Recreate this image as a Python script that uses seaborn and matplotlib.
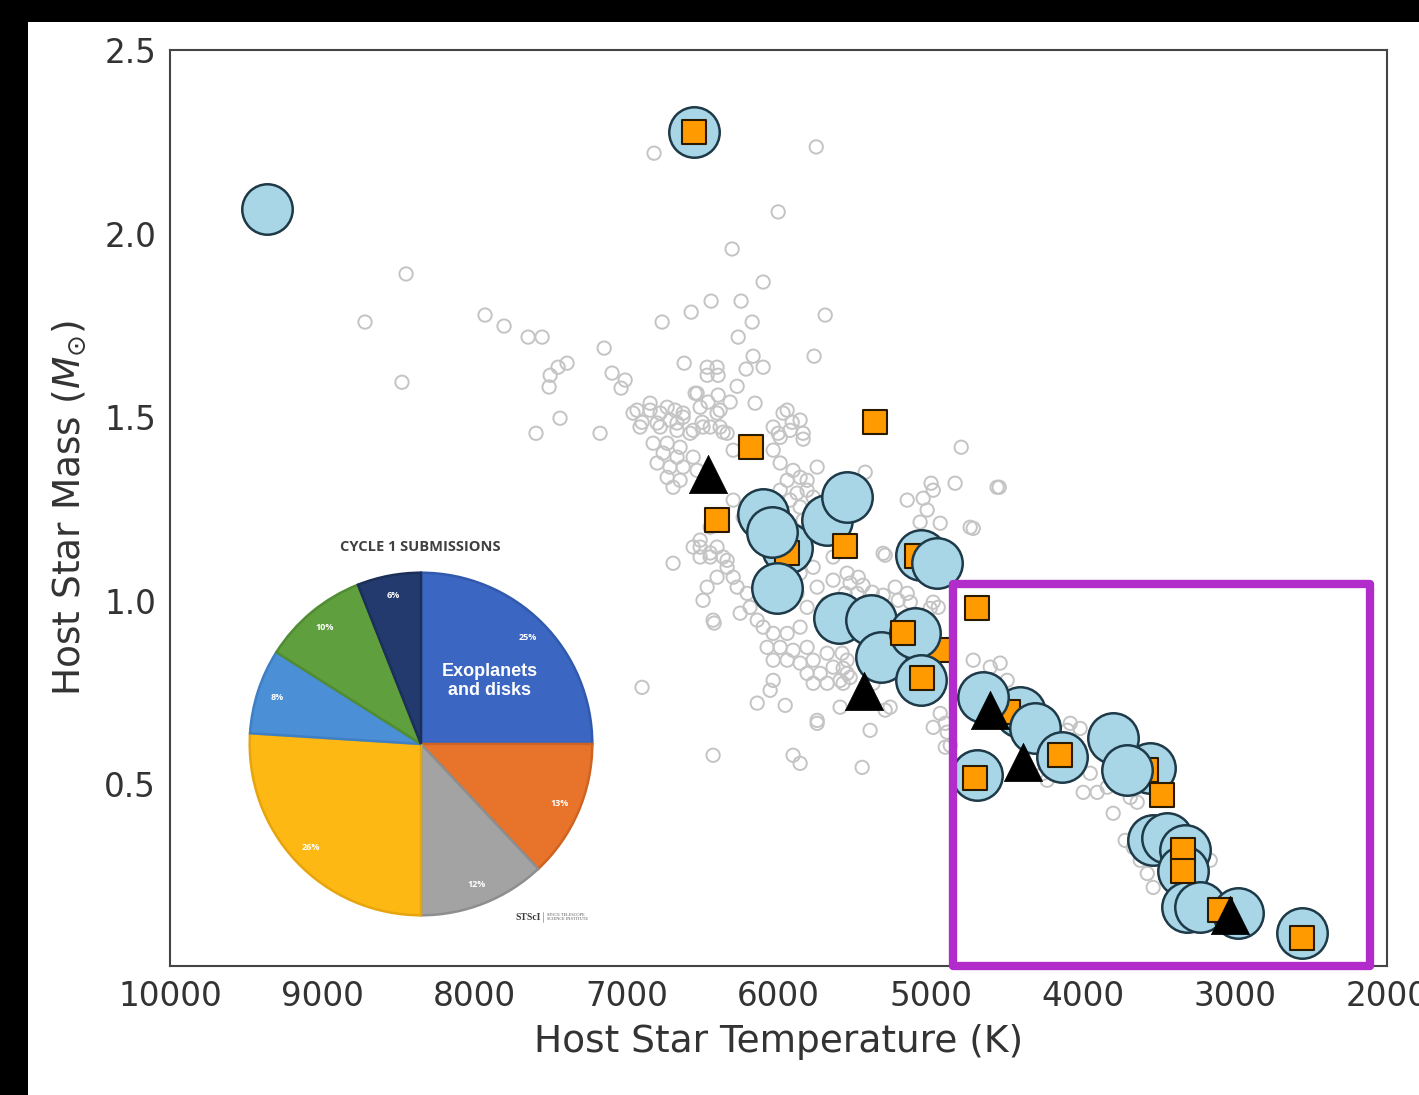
import matplotlib
matplotlib.use("Agg")
import matplotlib.pyplot as plt
import seaborn as sns
from matplotlib.patches import Rectangle
from matplotlib.lines import Line2D

sns.set_style("white")
plt.rcParams["font.family"] = ["DejaVu Sans"]

# ---------------- data ----------------
# known exoplanet hosts (background cloud)
gray_T = [6818, 8448, 8718, 7929, 7804, 7646, 7554, 7146, 6765, 6574, 6620, 7390, 7449, 7501, 7508, 7094, 7008, 7035, 8475, 7436, 7594, 7173, 6844, 6930, 6897, 6778, 6680, 6627, 6798, 6548, 6713,
          5752, 6002, 6305, 6101, 6443, 6246, 5693, 6173, 6265, 5766, 6167, 6101, 6213, 6469, 6404, 6469, 6397, 6272, 6535, 6397, 6463, 6318, 6154, 6384, 5943, 5910, 6502, 6002, 5838, 6364,
          4799, 4997, 4839, 4549, 5049, 5023, 5069, 4937, 4720, 5430, 5299, 5549, 5476, 5529, 5444, 5562, 5483, 5384, 5312, 5233, 5154, 5213, 5134, 4983, 4950, 5003, 5582, 5549, 5575, 5529, 5575, 5378, 5266, 5299, 5398, 5450, 4983, 4937, 4891, 4871, 4720, 4543, 4608, 4497, 4082, 4017, 4102,
          4904, 4904, 4260, 4234, 3997, 3905, 3951, 3839, 3800, 3721, 3668, 3622, 3576, 3537, 3603, 3642, 3688, 3162,
          6667, 6581, 6496, 6384, 6824, 6732, 6647, 6758, 6667, 6561, 6798, 6713, 6627, 6535, 6732, 6647, 6693,
          6298, 6035, 5989, 5904, 5858, 5943, 5878, 5812, 5989, 5924, 5858, 5838,
          6515, 6449, 6364, 6338, 6298, 6404, 6272, 6206, 6469, 6496, 6430, 6693, 6252, 6187, 6140,
          6101, 6035, 5943, 5858, 6075, 5989, 5904, 5812, 6035, 5943, 5858, 5772, 5680, 5812, 5726, 5641, 5772, 5680, 5595, 5549,
          6035, 6055, 6140, 5956, 5746, 5595, 6897, 6430, 5904, 5858, 6423,
          6956, 6844, 6732, 6627, 6515, 6404, 6910, 6778, 6667, 6561, 6449, 6338, 5970, 5858, 5989, 5924, 6035, 5838,
          6298, 6232, 6449, 6515, 6404, 6561, 6449, 6338, 6515,
          5812, 5746, 5772, 5641, 5772, 5858, 5746, 5641, 5812, 5680, 5858, 5878, 5154, 4983, 4740, 4563, 5312, 5746]
gray_M = [2.219, 1.890, 1.759, 1.778, 1.748, 1.718, 1.718, 1.688, 1.759, 1.786, 1.647, 1.647, 1.636, 1.614, 1.582, 1.620, 1.601, 1.579, 1.595, 1.497, 1.456, 1.456, 1.538, 1.519, 1.486, 1.511, 1.519, 1.500, 1.484, 1.565, 1.492,
          2.236, 2.059, 1.958, 1.868, 1.816, 1.816, 1.778, 1.759, 1.718, 1.666, 1.666, 1.636, 1.631, 1.636, 1.636, 1.614, 1.614, 1.584, 1.565, 1.560, 1.541, 1.541, 1.538, 1.519, 1.519, 1.486, 1.486, 1.456, 1.456, 1.459,
          1.418, 1.320, 1.320, 1.309, 1.279, 1.247, 1.214, 1.211, 1.197, 1.350, 1.124, 1.075, 1.064, 1.048, 1.042, 1.020, 1.020, 1.023, 1.015, 1.037, 1.020, 1.001, 0.996, 0.996, 0.982, 0.979, 0.857, 0.838, 0.816, 0.791, 0.775, 0.775, 0.710, 0.702, 0.647, 0.546, 0.655, 0.693, 0.642, 0.606, 0.838, 0.830, 0.819, 0.783, 0.666, 0.652, 0.647,
          0.666, 0.601, 0.530, 0.511, 0.478, 0.478, 0.530, 0.492, 0.421, 0.347, 0.328, 0.293, 0.257, 0.219, 0.383, 0.451, 0.464, 0.293,
          1.464, 1.456, 1.473, 1.473, 1.429, 1.429, 1.418, 1.402, 1.391, 1.391, 1.375, 1.364, 1.364, 1.355, 1.336, 1.328, 1.309,
          1.410, 1.410, 1.375, 1.355, 1.336, 1.328, 1.293, 1.301, 1.301, 1.274, 1.255, 1.219,
          1.146, 1.130, 1.119, 1.091, 1.064, 1.064, 1.037, 1.020, 1.037, 1.001, 0.947, 1.102, 0.966, 0.982, 0.947,
          0.928, 0.911, 0.911, 0.928, 0.873, 0.873, 0.865, 0.873, 0.838, 0.838, 0.830, 0.838, 0.857, 0.802, 0.802, 0.819, 0.775, 0.775, 0.783, 0.802,
          0.783, 0.756, 0.721, 0.715, 0.666, 0.710, 0.764, 0.579, 0.579, 0.557, 0.939,
          1.511, 1.519, 1.527, 1.511, 1.527, 1.511, 1.473, 1.473, 1.484, 1.464, 1.473, 1.456, 1.511, 1.492, 1.445, 1.464, 1.473, 1.440,
          1.274, 1.227, 1.200, 1.165, 1.146, 1.146, 1.119, 1.110, 1.119,
          1.328, 1.364, 1.282, 1.119, 1.091, 1.119, 1.037, 1.056, 0.982, 0.993, 1.075, 1.020, 1.274, 1.301, 1.200, 1.309, 1.129, 0.674]

# targeted hosts (large circles) - lower layer
circ_low_T = [5943, 5062, 4411, 3556]
circ_low_M = [1.143, 1.124, 0.696, 0.543]

# squares partly tucked under neighbouring circles
sq_low_T = [5943, 5089, 4937, 4490, 3583]
sq_low_M = [1.129, 1.121, 0.865, 0.696, 0.538]

# targeted hosts (large circles) - upper layer
circ_T = [9362, 6555, 6101, 6042, 6009, 5680, 5549, 5601, 5391, 5325, 5102, 5062, 4957,
          4655, 4313, 4135, 4694, 3800, 3708, 3537, 3445, 3326, 3339, 3313, 3228, 2978, 2557]
circ_M = [2.067, 2.277, 1.236, 1.187, 1.034, 1.219, 1.282, 0.952, 0.947, 0.846, 0.911, 0.783, 1.102,
          0.737, 0.652, 0.573, 0.524, 0.625, 0.538, 0.347, 0.355, 0.320, 0.265, 0.165, 0.165, 0.148, 0.094]

# orange squares
sq_T = [6555, 6180, 5365, 6404, 5562, 4694, 5180, 5056, 4707, 4148, 3477, 3339, 3339, 3096, 2557]
sq_M = [2.277, 1.418, 1.486, 1.219, 1.148, 0.979, 0.911, 0.789, 0.516, 0.579, 0.470, 0.320, 0.265, 0.157, 0.080]

# black triangles
tri_T = [6463, 5437, 4608, 4391, 3030]
tri_M = [1.345, 0.753, 0.702, 0.560, 0.143]

# highlighted region (temperature range, mass range)
box_T = [2110, 4850]
box_M = [0.005, 1.045]

# Cycle 1 submissions pie
pie_share = [25, 13, 12, 26, 8, 10, 6]
pie_colors = ["#3b66c1", "#e8742c", "#a3a3a3", "#fdb813", "#4b8fd7", "#5f9f3e", "#223a6d"]
pie_edges = ["#3159ad", "#cf6322", "#8e8e8e", "#e6a50c", "#3f7fc4", "#508c32", "#1b2f59"]

# ---------------- figure ----------------
fig = plt.figure(figsize=(14.19, 10.95), dpi=100)
fig.patch.set_facecolor("white")
ax = fig.add_axes([170 / 1419, 1 - 966 / 1095, (1387 - 170) / 1419, (966 - 50) / 1095])

sns.scatterplot(x=gray_T, y=gray_M, ax=ax, s=92, marker="o", color="white",
                edgecolor="#c4c4c4", linewidth=1.4, legend=False, zorder=2)
ax.collections[-1].set_facecolor("none")

big_kw = dict(s=1320, marker="o", color="#a8d6e6", edgecolor="#1e3a48", linewidth=1.8, legend=False)
sq_kw = dict(s=300, marker="s", color="#ff9a00", edgecolor="#2a1a00", linewidth=1.5, legend=False)

sns.scatterplot(x=circ_low_T, y=circ_low_M, ax=ax, zorder=3, **big_kw)
sns.scatterplot(x=sq_low_T, y=sq_low_M, ax=ax, zorder=3.5, **sq_kw)
sns.scatterplot(x=circ_T, y=circ_M, ax=ax, zorder=4, **big_kw)
sns.scatterplot(x=sq_T, y=sq_M, ax=ax, zorder=5, **sq_kw)
sns.scatterplot(x=tri_T, y=tri_M, ax=ax, s=760, marker="^", color="black",
                edgecolor="black", linewidth=0.5, legend=False, zorder=6)

ax.add_patch(Rectangle((box_T[0], box_M[0]), box_T[1] - box_T[0], box_M[1] - box_M[0],
                       fill=False, edgecolor="#b12ccb", linewidth=6, joinstyle="round",
                       zorder=7, clip_on=False))

ax.set_xlim(10000, 2000)
ax.set_ylim(0.005, 2.5)
ax.set_xticks([10000, 9000, 8000, 7000, 6000, 5000, 4000, 3000, 2000])
ax.set_yticks([0.5, 1.0, 1.5, 2.0, 2.5])
ax.set_yticklabels(["0.5", "1.0", "1.5", "2.0", "2.5"])
ax.tick_params(axis="both", labelsize=23.5, length=6, width=1.5, color="#444444",
               labelcolor="#333333", direction="out", pad=4)
for sp in ax.spines.values():
    sp.set_linewidth(1.5)
    sp.set_color("#444444")
ax.set_xlabel("Host Star Temperature (K)", fontsize=27, color="#333333", labelpad=8)
ax.set_ylabel(r"Host Star Mass ($M_{\odot}$)", fontsize=27, color="#333333", labelpad=12)

# ---------------- inset pie ----------------
pax = fig.add_axes([248 / 1419, 1 - 917 / 1095, 346 / 1419, 346 / 1095])
wedges, _, autotexts = pax.pie(pie_share, colors=pie_colors, startangle=90, counterclock=False,
                               autopct=lambda p: f"{p:.0f}%", pctdistance=0.88,
                               wedgeprops=dict(linewidth=1.8),
                               textprops=dict(color="white", fontsize=6.5, fontweight="bold",
                                              family="Open Sans"))
for w, ec in zip(wedges, pie_edges):
    w.set_edgecolor(ec)
pax.set_xlim(-1.01, 1.01)
pax.set_ylim(-1.01, 1.01)
pax.set_aspect("equal")
pax.axis("off")
pax.text(0.40, 0.37, "Exoplanets\nand disks", ha="center", va="center", color="white",
         fontsize=13, fontweight="bold", family="Liberation Sans", linespacing=1.15)

fig.text(420 / 1419, 1 - 547 / 1095, "CYCLE 1 SUBMISSIONS", ha="center", va="center",
         fontsize=10.5, fontweight="bold", family="Open Sans", color="#404040")
fig.text(528 / 1419, 1 - 917 / 1095, "STScI", ha="center", va="center", fontsize=7,
         fontweight="bold", family="Liberation Serif", color="#3a3a3a")
fig.add_artist(Line2D([543 / 1419, 543 / 1419], [1 - 922 / 1095, 1 - 912 / 1095],
                      transform=fig.transFigure, color="#888888", linewidth=0.5))
fig.text(547 / 1419, 1 - 917 / 1095, "SPACE TELESCOPE\nSCIENCE INSTITUTE", ha="left",
         va="center", fontsize=3.2, family="Liberation Serif", color="#555555", linespacing=1.0)

# dark frame along the top and left edges
fig.add_artist(Rectangle((0, 1 - 22 / 1095), 1, 22 / 1095, transform=fig.transFigure,
                         facecolor="black", edgecolor="none", zorder=10))
fig.add_artist(Rectangle((0, 0), 28 / 1419, 1, transform=fig.transFigure,
                         facecolor="black", edgecolor="none", zorder=10))

fig.savefig("out.png", dpi=100, facecolor="white")
